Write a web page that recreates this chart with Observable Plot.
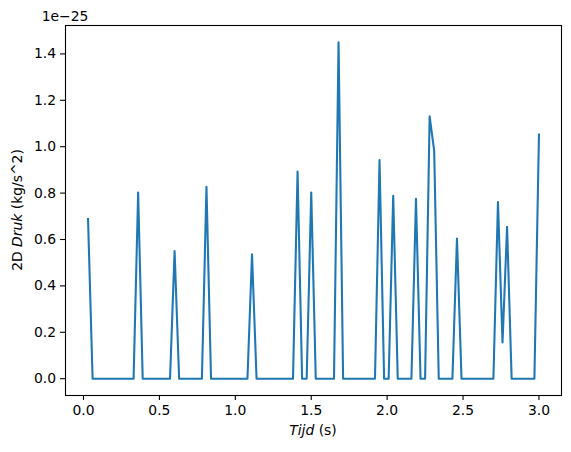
<!DOCTYPE html>
<html><head><meta charset="utf-8">
<script src="https://cdn.jsdelivr.net/npm/d3@7"></script>
<script src="https://cdn.jsdelivr.net/npm/@observablehq/plot@0.6"></script>
<style>html,body{margin:0;padding:0;background:#fff} svg{display:block}</style>
</head><body><div id="chart"></div>
<script>
// time (s)
const tijd = [
  0.03,0.06,0.09,0.12,0.15,0.18,0.21,0.24,0.27,0.30,
  0.33,0.36,0.39,0.42,0.45,0.48,0.51,0.54,0.57,0.60,
  0.63,0.66,0.69,0.72,0.75,0.78,0.81,0.84,0.87,0.90,
  0.93,0.96,0.99,1.02,1.05,1.08,1.11,1.14,1.17,1.20,
  1.23,1.26,1.29,1.32,1.35,1.38,1.41,1.44,1.47,1.50,
  1.53,1.56,1.59,1.62,1.65,1.68,1.71,1.74,1.77,1.80,
  1.83,1.86,1.89,1.92,1.95,1.98,2.01,2.04,2.07,2.10,
  2.13,2.16,2.19,2.22,2.25,2.28,2.31,2.34,2.37,2.40,
  2.43,2.46,2.49,2.52,2.55,2.58,2.61,2.64,2.67,2.70,
  2.73,2.76,2.79,2.82,2.85,2.88,2.91,2.94,2.97,3.00
];
// 2D pressure, in units of 1e-25 kg/s^2
const druk = [
  0.688,0,0,0,0,0,0,0,0,0,
  0,0.802,0,0,0,0,0,0,0,0.550,
  0,0,0,0,0,0,0.827,0,0,0,
  0,0,0,0,0,0,0.536,0,0,0,
  0,0,0,0,0,0,0.893,0,0,0.802,
  0,0,0,0,0,1.450,0,0,0,0,
  0,0,0,0,0.942,0,0,0.788,0,0,
  0,0,0.775,0,0,1.131,0.982,0,0,0,
  0,0.604,0,0,0,0,0,0,0,0,
  0.762,0.156,0.655,0,0,0,0,0,0,1.052
];
const xTicks = [0, 0.5, 1.0, 1.5, 2.0, 2.5, 3.0];
const yTicks = [0, 0.2, 0.4, 0.6, 0.8, 1.0, 1.2, 1.4];
const offsetLabel = "1e\u221225";
const xLabelItalic = "Tijd", xLabelRest = " (s)";
const yLabelPre = "2D ", yLabelItalic = "Druk", yLabelRest = " (kg/s^2)";

const data = tijd.map((t, i) => ({t, p: druk[i]}));
const fmt = d => d.toFixed(1);
const fs = 13.9;
const W = 571, H = 452, mL = 65, mR = 10, mT = 25, mB = 57;

const chart = Plot.plot({
  width: W, height: H,
  marginLeft: mL, marginRight: mR, marginTop: mT, marginBottom: mB,
  style: {fontFamily: "DejaVu Sans", fontSize: fs + "px", color: "#000", background: "#fff"},
  x: {domain: [-0.1185, 3.1485]},
  y: {domain: [-0.0725, 1.5225]},
  marks: [
    Plot.axisX({ticks: xTicks, tickFormat: fmt, tickSize: 4.9, tickPadding: 4.6, strokeWidth: 1.1, label: null}),
    Plot.axisY({ticks: yTicks, tickFormat: fmt, tickSize: 4.9, tickPadding: 4.6, strokeWidth: 1.1, label: null}),
    Plot.line(data, {x: "t", y: "p", stroke: "#1f77b4", strokeWidth: 2.08, strokeLinejoin: "round", strokeLinecap: "square"}),
    Plot.frame({stroke: "#000", strokeWidth: 1.1})
  ]
});
document.getElementById("chart").append(chart);

const svg = d3.select(chart);
const ff = "DejaVu Sans";
svg.append("text").attr("x", mL).attr("y", mT - 4.5)
  .attr("font-family", ff).attr("font-size", fs).attr("fill", "#000")
  .text(offsetLabel);

const cx = (mL + (W - mR)) / 2;
const xl = svg.append("text").attr("x", cx).attr("y", 435)
  .attr("text-anchor", "middle").attr("font-family", ff).attr("font-size", fs).attr("fill", "#000");
xl.append("tspan").attr("font-style", "italic").text(xLabelItalic);
xl.append("tspan").text(xLabelRest);

const cy = (mT + (H - mB)) / 2;
const yl = svg.append("text").attr("transform", `translate(22,${cy}) rotate(-90)`)
  .attr("text-anchor", "middle").attr("font-family", ff).attr("font-size", fs).attr("fill", "#000");
yl.append("tspan").text(yLabelPre);
yl.append("tspan").attr("font-style", "italic").text(yLabelItalic);
yl.append("tspan").text(yLabelRest);
</script>
</body></html>
